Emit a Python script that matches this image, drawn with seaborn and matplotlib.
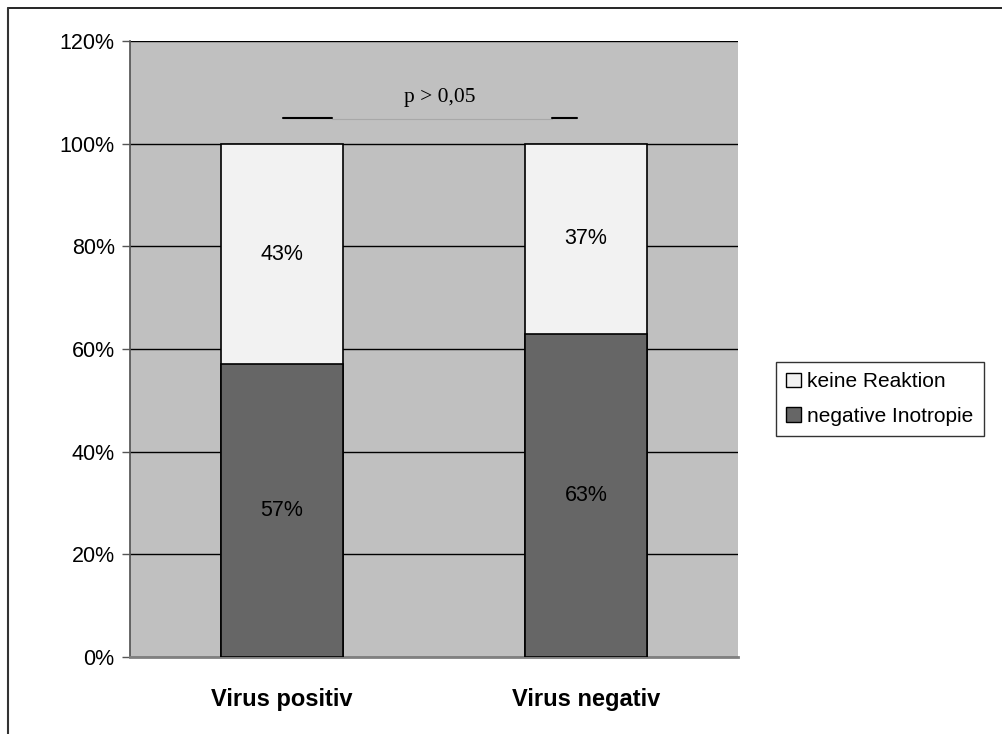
import matplotlib
matplotlib.use("Agg")
import matplotlib.pyplot as plt
import seaborn as sns
import pandas as pd
from matplotlib.lines import Line2D
from matplotlib.patches import Patch

categories = ["Virus positiv", "Virus negativ"]
keine_reaktion = [43, 37]
negative_inotropie = [57, 63]
series_names = ["keine Reaktion", "negative Inotropie"]
y_ticks = [0, 20, 40, 60, 80, 100, 120]
p_text = "p > 0,05"

sns.set_theme(style="white")
plt.rcParams["font.family"] = ["Liberation Sans", "DejaVu Sans"]
plt.rcParams["text.color"] = "black"
plt.rcParams["xtick.color"] = "black"
plt.rcParams["ytick.color"] = "black"
plt.rcParams["xtick.labelcolor"] = "black"
plt.rcParams["ytick.labelcolor"] = "black"

df = pd.DataFrame({
    "cat": categories,
    "total": [a + b for a, b in zip(keine_reaktion, negative_inotropie)],
    "neg": negative_inotropie,
})

fig = plt.figure(figsize=(10.03, 7.34), dpi=100)
ax = fig.add_axes([130 / 1003, 1 - 657 / 734, 608 / 1003, 616 / 734])
ax.set_facecolor("#c0c0c0")

light = "#f2f2f2"
dark = "#666666"

sns.barplot(data=df, x="cat", y="total", color=light, width=0.4,
            edgecolor="black", linewidth=1.2, saturation=1, ax=ax, zorder=3)
sns.barplot(data=df, x="cat", y="neg", color=dark, width=0.4,
            edgecolor="black", linewidth=1.2, saturation=1, ax=ax, zorder=4)

ax.set_ylim(0, 120)
ax.set_xlim(-0.5, 1.5)
ax.set_yticks(y_ticks)
ax.set_yticklabels([f"{t}%" for t in y_ticks], fontsize=15.5)
ax.yaxis.grid(True, color="black", linewidth=1.0, zorder=0)
ax.set_axisbelow(True)
ax.set_xlabel("")
ax.set_ylabel("")
ax.set_xticks(range(len(categories)))
ax.set_xticklabels(categories, fontsize=17, fontweight="bold")
ax.tick_params(axis="x", length=0, pad=22)
ax.tick_params(axis="y", length=6, width=1, color="#555555", pad=5, left=True)
for s in ["top", "right"]:
    ax.spines[s].set_visible(False)
ax.spines["left"].set_color("#555555")
ax.spines["bottom"].set_color("#808080")
ax.spines["bottom"].set_linewidth(2)

# value labels
for i, (n, k) in enumerate(zip(negative_inotropie, keine_reaktion)):
    ax.text(i, n / 2, f"{n}%", ha="center", va="center", fontsize=15.5, color="black", zorder=5)
    ax.text(i, n + k / 2, f"{k}%", ha="center", va="center", fontsize=15.5, color="black", zorder=5)

# significance annotation
ax.plot([0.003, 0.163], [105, 105], color="black", lw=1.5, zorder=5)
ax.plot([0.163, 0.887], [104.8, 104.8], color="#a8a8a8", lw=0.8, zorder=5)
ax.plot([0.887, 0.97], [105, 105], color="black", lw=1.5, zorder=5)
ax.text(0.52, 108.9, p_text, ha="center", va="center", fontsize=15.5, color="black",
        family=["Liberation Serif", "DejaVu Serif"], zorder=5)

handles = [Patch(facecolor=light, edgecolor="black", label=series_names[0]),
           Patch(facecolor=dark, edgecolor="black", label=series_names[1])]
leg = fig.legend(handles=handles, loc="upper left",
                 bbox_to_anchor=(776 / 1003, 1 - 362 / 734),
                 frameon=True, fancybox=False, fontsize=15,
                 handlelength=0.7, handleheight=0.7, handletextpad=0.3,
                 labelspacing=0.75, borderpad=0.5, borderaxespad=0)
leg.get_frame().set_edgecolor("black")
leg.get_frame().set_linewidth(1)
for t in leg.get_texts():
    t.set_color("black")

# outer frame (top and left lines)
fig.add_artist(Line2D([8 / 1003, 1], [1 - 8 / 734, 1 - 8 / 734], color="black", lw=1.2))
fig.add_artist(Line2D([8 / 1003, 8 / 1003], [0, 1 - 8 / 734], color="#333333", lw=1.5))

fig.savefig("out.png", dpi=100)
